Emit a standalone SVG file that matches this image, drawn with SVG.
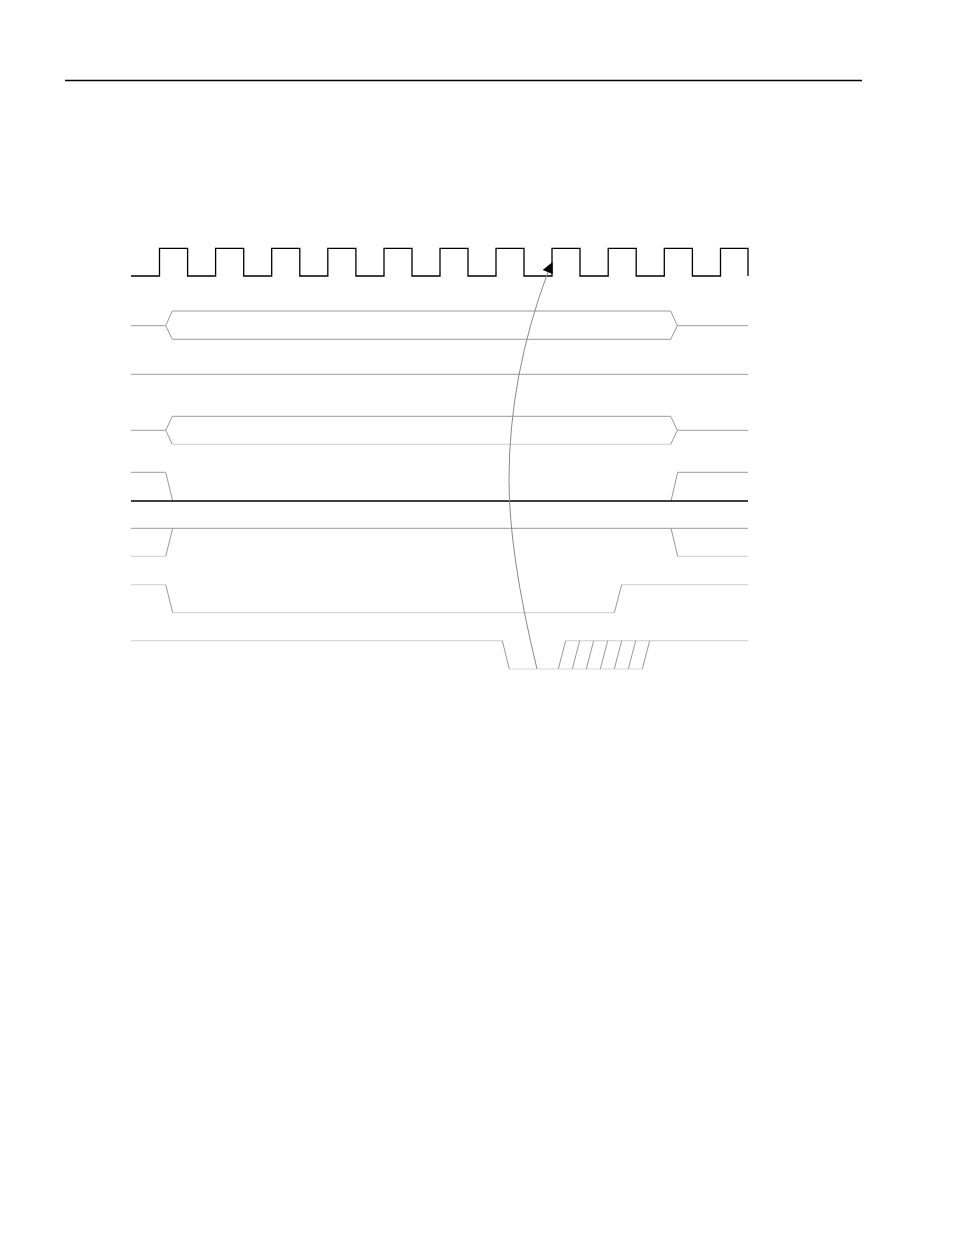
<svg xmlns="http://www.w3.org/2000/svg" width="954" height="1235" viewBox="0 0 954 1235">
<style>
.blk{fill:none;stroke:#000;stroke-width:1.3}
.g{fill:none;stroke:#9a9a9a;stroke-width:1}
.lt{fill:none;stroke:#d8d8d8;stroke-width:1.2}
.crv{fill:none;stroke:#8a8a8a;stroke-width:1}
</style>
<rect width="954" height="1235" fill="#fff"/>
<line id="rule" class="blk" x1="65" y1="80.5" x2="862" y2="80.5"/>
<g id="clk">
<path class="blk" d="M131,276 H159.5 V248.3 H187.6 V276 H215.6 V248.3 H243.7 V276 H271.7 V248.3 H299.8 V276 H327.8 V248.3 H355.9 V276 H384 V248.3 H412 V276 H440 V248.3 H468 V276 H496 V248.3 H524 V276 H552 V248.3 H580 V276 H608.2 V248.3 H636.2 V276 H664.3 V248.3 H692.4 V276 H720.5 V248.3 H748 V276"/>
</g>
<g id="bus1">
<path class="g" d="M131,325.7 H165.7 L172.3,311 H670.7 L677.3,325.7 H748 M165.7,325.7 L172.3,339.3 H670.7 L677.3,325.7"/>
</g>
<g id="sig2">
<line class="g" x1="131" y1="374.3" x2="748" y2="374.3"/>
</g>
<g id="bus2">
<path class="g" d="M131,430.3 H165.7 L172.3,416.3 H670.7 L677.3,430.3 H748 M165.7,430.3 L172.3,444.3 M670.7,444.3 L677.3,430.3"/>
<line class="lt" x1="172.3" y1="444.3" x2="670.7" y2="444.3"/>
</g>
<g id="sig3">
<path class="g" d="M131,472.3 H165.7 L172.7,501 M671,501 L677.7,472.3 H748"/>
<line class="blk" x1="131" y1="501" x2="748" y2="501"/>
</g>
<g id="sig4">
<line class="g" x1="131" y1="528.3" x2="748" y2="528.3"/>
<path class="g" d="M165.7,556.3 L172.7,528.3 M671,528.3 L677.7,556.3"/>
<path class="lt" d="M131,556.3 H165.7 M677.7,556.3 H748"/>
</g>
<g id="sig5">
<path class="lt" d="M131,584.7 H165.7 M172.7,612.7 H614.3 M621.7,584.7 H748"/>
<path class="g" d="M165.7,584.7 L172.7,612.7 M614.3,612.7 L621.7,584.7"/>
</g>
<g id="sig6">
<path class="lt" d="M131,640.7 H502.3 M509.3,669 H642.7 M565.7,640.7 H748"/>
<path class="g" d="M502.3,640.7 L509.3,669 M558.3,669 L565.7,640.7 M572.3,669 L579.7,640.7 M586.3,669 L593.7,640.7 M600.3,669 L607.7,640.7 M614.3,669 L621.7,640.7 M628.3,669 L635.7,640.7 M642.3,669 L649.7,640.7"/>
</g>
<g id="connectors">
<path class="crv" d="M537,669 Q509,554 509,480 Q509,376 548,272"/>
<polygon points="552.5,262 542.7,270 552.7,274" fill="#000"/>
</g>
</svg>
